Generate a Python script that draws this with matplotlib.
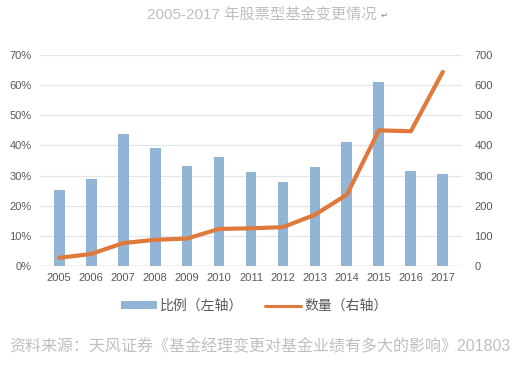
import matplotlib
matplotlib.use("Agg")
import matplotlib.pyplot as plt
import numpy as np

plt.rcParams['font.family'] = ['Liberation Sans', 'Noto Sans CJK SC', 'DejaVu Sans']

years = ['2005', '2006', '2007', '2008', '2009', '2010', '2011',
         '2012', '2013', '2014', '2015', '2016', '2017']
ratio = [25.2, 29.0, 43.7, 39.2, 33.3, 36.3, 31.2, 27.9, 32.7, 41.1, 61.1, 31.5, 30.6]  # %
count = [27, 40, 76, 87, 91, 123, 125, 129, 170, 237, 450, 447, 644]

bar_color = '#93B5D5'
line_color = '#E0793C'
tick_color = '#595959'

fig = plt.figure(figsize=(5.17, 3.69), dpi=100)
ax = fig.add_axes([40 / 517, 1 - 266 / 369, 422 / 517, 211 / 369])
ax2 = ax.twinx()

x = np.arange(len(years))
ax.bar(x, ratio, width=0.34, color=bar_color, zorder=2, label='比例（左轴）')
ax2.plot(x, count, color=line_color, lw=3, solid_capstyle='round', zorder=3, label='数量（右轴）')

ax.set_xlim(-0.6, len(years) - 0.4)
ax.set_ylim(0, 70)
ax2.set_ylim(0, 700)
ax.set_yticks(np.arange(0, 71, 10))
ax.set_yticklabels([f'{v}%' for v in range(0, 71, 10)])
ax2.set_yticks(np.arange(0, 701, 100))
ax.set_xticks(x)
ax.set_xticklabels(years)

ax.grid(axis='y', color='#E6E6E6', lw=0.9, zorder=0)
ax.set_axisbelow(True)
for a in (ax, ax2):
    for s in ['top', 'left', 'right', 'bottom']:
        a.spines[s].set_visible(False)
    a.tick_params(length=0, labelsize=8, colors=tick_color)
ax.axhline(0, color='#D0D0D0', lw=1, zorder=1)
ax.tick_params(axis='y', pad=6)
ax2.tick_params(axis='y', pad=9)
ax.tick_params(axis='x', pad=5)

h1, l1 = ax.get_legend_handles_labels()
h2, l2 = ax2.get_legend_handles_labels()
leg = fig.legend(h1 + h2, l1 + l2, loc='center', bbox_to_anchor=(254 / 517, 1 - 306 / 369),
                 ncol=2, frameon=False, fontsize=10, labelcolor=tick_color,
                 handlelength=2.6, handleheight=0.5, columnspacing=1.6, handletextpad=0.2)
leg.get_lines()[0].set_linewidth(2.2)

fig.text(262 / 517, 1 - 14 / 369, '2005-2017 年股票型基金变更情况', ha='center', va='center',
         fontsize=11, color='#BFBFBF')
fig.text(381 / 517, 1 - 15 / 369, '↵', ha='left', va='center', fontsize=6, color='#808080',
         family='DejaVu Sans')
fig.text(260 / 517, 1 - 347 / 369, '资料来源：天风证券《基金经理变更对基金业绩有多大的影响》201803',
         ha='center', va='center', fontsize=11.5, color='#BFBFBF')

fig.savefig('out.png', dpi=100)
